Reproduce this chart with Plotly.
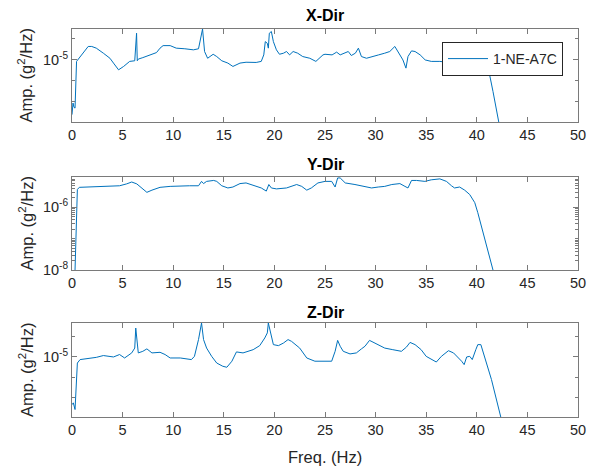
import numpy as np
import plotly.graph_objects as go

# ---------------- data ----------------
# amplitudes are given as log10(g^2/Hz)
x_freq = [0, 0.1, 0.2, 0.3, 0.45, 0.8, 1.3, 1.6, 1.95, 2.4, 3.1, 3.75, 4.1, 4.6, 5.1, 5.7,
          6.2, 6.38, 6.45, 6.55, 7.0, 7.7, 8.35, 8.7, 9.0, 9.7, 10.3, 11.15, 12.0, 12.5,
          12.7, 12.9, 13.1, 13.4, 13.95, 14.3, 14.8, 15.4, 15.9, 16.6, 17.2, 18.2, 18.7,
          18.95, 19.1, 19.3, 19.4, 19.5, 19.7, 19.9, 20.2, 20.5, 20.9, 21.2, 21.5, 21.85,
          22.3, 22.8, 23.5, 24.1, 24.8, 25.0, 25.7, 26.15, 26.5, 27.0, 27.3, 27.6, 28.0,
          28.3, 28.6, 29.1, 29.6, 30.3, 30.9, 31.4, 31.9, 32.2, 32.7, 33.0, 33.2, 33.55,
          33.9, 34.4, 34.9, 35.5, 36.35, 37.0, 38.0, 38.8, 39.1, 39.6, 39.8, 40.1, 40.6,
          41.05, 41.2, 41.6, 41.95, 42.17]
x_log_amp = [-7.62, -7.07, -7.27, -7.31, -5.09, -4.86, -4.54, -4.38, -4.38, -4.46, -4.70,
             -4.94, -5.17, -5.49, -5.33, -5.09, -5.06, -3.75, -5.06, -4.98, -4.91, -4.78,
             -4.67, -4.46, -4.34, -4.34, -4.46, -4.49, -4.54, -4.49, -3.99, -3.55, -4.62,
             -4.94, -4.75, -4.86, -5.06, -5.17, -5.33, -5.17, -5.13, -5.14, -5.09, -4.78,
             -4.15, -4.23, -4.46, -3.75, -3.67, -4.15, -4.54, -4.75, -4.70, -4.62, -4.78,
             -4.62, -4.70, -4.86, -4.94, -5.09, -4.78, -4.75, -4.78, -4.65, -4.78, -4.70,
             -4.62, -4.81, -4.70, -4.46, -4.86, -4.94, -4.86, -4.78, -4.70, -4.62, -4.38,
             -4.62, -5.02, -5.41, -4.86, -4.59, -4.62, -4.78, -5.02, -5.09, -5.09, -5.13,
             -5.17, -5.33, -5.57, -5.49, -5.70, -5.49, -5.41, -5.38, -5.57, -6.52, -7.31,
             -7.97]

y_freq = [0.3, 0.53, 0.72, 1.8, 2.9, 4.1, 4.7, 5.4, 5.9, 6.4, 6.9, 7.4, 7.9, 8.7, 9.7, 10.7,
          11.6, 12.5, 12.8, 13.0, 13.3, 14.0, 14.3, 14.8, 15.4, 15.9, 16.6, 17.2, 18.1, 18.7,
          19.2, 19.45, 19.7, 20.2, 21.2, 22.2, 22.7, 23.2, 23.65, 24.3, 25.0, 25.66, 26.0,
          26.25, 26.5, 27.0, 27.96, 28.95, 29.6, 30.26, 30.9, 31.6, 32.4, 32.9, 33.2, 33.55,
          34.05, 34.87, 35.5, 36.35, 37.0, 37.5, 37.8, 38.3, 38.8, 39.3, 39.8, 40.1, 40.45,
          40.8, 41.1, 41.45, 41.6]
y_log_amp = [-8.0, -5.43, -5.36, -5.35, -5.33, -5.33, -5.31, -5.25, -5.19, -5.25, -5.38,
             -5.52, -5.45, -5.36, -5.33, -5.31, -5.31, -5.31, -5.17, -5.24, -5.17, -5.14,
             -5.17, -5.31, -5.38, -5.35, -5.24, -5.22, -5.31, -5.38, -5.48, -5.27, -5.38,
             -5.41, -5.38, -5.27, -5.33, -5.45, -5.38, -5.22, -5.17, -5.17, -5.35, -5.06,
             -5.06, -5.22, -5.27, -5.35, -5.38, -5.35, -5.33, -5.27, -5.24, -5.33, -5.38,
             -5.14, -5.14, -5.17, -5.12, -5.09, -5.17, -5.31, -5.38, -5.35, -5.45, -5.59,
             -5.85, -6.17, -6.59, -6.96, -7.33, -7.80, -8.0]

z_freq = [0, 0.13, 0.3, 0.53, 0.8, 1.3, 1.8, 2.4, 3.1, 4.1, 4.7, 5.2, 5.9, 6.2, 6.3, 6.45,
          6.55, 7.0, 7.4, 7.9, 8.7, 9.2, 9.7, 10.7, 11.3, 11.8, 12.1, 12.5, 12.8, 13.0,
          13.3, 13.8, 14.3, 14.9, 15.3, 15.8, 16.25, 16.9, 17.9, 18.55, 19.05, 19.3, 19.4,
          19.6, 19.9, 20.4, 20.9, 21.35, 21.7, 22.5, 23.2, 24.0, 25.0, 25.66, 26.0, 26.25,
          26.5, 26.8, 27.47, 28.1, 28.6, 28.95, 29.4, 30.1, 30.9, 31.7, 32.55, 33.05, 33.4,
          33.9, 34.5, 35.0, 35.5, 36.0, 36.5, 37.2, 37.7, 38.2, 38.5, 38.75, 39.0, 39.3,
          39.55, 39.9, 40.1, 40.4, 40.6, 41.45, 42.37]
z_log_amp = [-7.36, -7.27, -7.60, -5.30, -5.13, -5.10, -5.07, -5.02, -4.93, -5.00, -4.88,
             -5.05, -4.80, -4.56, -3.57, -4.56, -4.80, -4.72, -4.60, -4.80, -4.77, -4.88,
             -5.05, -5.05, -5.10, -5.13, -4.97, -4.14, -3.32, -4.14, -4.56, -4.97, -5.30,
             -5.46, -5.51, -5.21, -4.75, -4.80, -4.64, -4.44, -4.06, -3.81, -3.32, -3.81,
             -4.39, -4.44, -4.31, -4.14, -4.23, -4.56, -5.05, -5.21, -5.21, -5.21, -4.72,
             -4.18, -4.47, -4.72, -4.85, -4.80, -4.60, -4.47, -4.18, -4.34, -4.56, -4.64,
             -4.72, -4.51, -4.28, -4.39, -4.64, -4.97, -5.13, -5.25, -4.97, -4.69, -4.80,
             -5.05, -5.21, -5.38, -5.00, -4.97, -5.13, -4.64, -4.39, -4.39, -4.72, -6.12,
             -7.97]

panel_titles = ["X-Dir", "Y-Dir", "Z-Dir"]
legend_name = "1-NE-A7C"
x_ticks = [0, 5, 10, 15, 20, 25, 30, 35, 40, 45, 50]
y_label = "Amp. (g<sup>2</sup>/Hz)"
x_label = "Freq. (Hz)"

# ---------------- figure ----------------
# the page body adds an 8 px offset; all pixel positions below are shifted by it
OFF = 8
W, H = 595 - OFF, 470 - OFF
LEFT, RIGHT = 72 - OFF, 578 - OFF
panels = [(29 - OFF, 122 - OFF), (177 - OFF, 270 - OFF), (323 - OFF, 417 - OFF)]
yranges = [(-7.97, -3.55), (-8.0, -5.03), (-7.97, -3.32)]

LINE = "#0072BD"
AX = "#262626"
BOX = "#7a7a7a"
FONT = "Liberation Sans, Arial, sans-serif"
TICK_SIZE = 14.5
LABEL_SIZE = 16.5

fig = go.Figure()
datasets = [(x_freq, x_log_amp), (y_freq, y_log_amp), (z_freq, z_log_amp)]
for i, (f, la) in enumerate(datasets):
    sfx = "" if i == 0 else str(i + 1)
    fig.add_trace(go.Scatter(
        x=f, y=10 ** np.array(la), mode="lines", name=legend_name,
        line=dict(color=LINE, width=1), showlegend=(i == 0),
        xaxis="x" + sfx, yaxis="y" + sfx))


def ydom(top, bot):
    return [1 - bot / H, 1 - top / H]


layout = dict(
    width=W, height=H, margin=dict(l=LEFT, r=W - RIGHT, t=0, b=0, autoexpand=False),
    paper_bgcolor="white", plot_bgcolor="white",
    font=dict(family=FONT, size=TICK_SIZE, color=AX),
    showlegend=True,
    legend=dict(x=(563 - OFF - LEFT) / (RIGHT - LEFT), y=1 - (42 - OFF) / H,
                xanchor="right", yanchor="top",
                bgcolor="white", bordercolor=AX, borderwidth=1,
                font=dict(family=FONT, size=14, color=AX), itemwidth=40,
                tracegroupgap=0),
)

minor_y2 = []
for d in [1e-8, 1e-7, 1e-6]:
    for m in range(2, 10):
        minor_y2.append(m * d)
minor_y2 += [1e-7, 1e-5]
ytick_specs = [
    ([1e-5], ["10<sup>-5</sup>"], [1e-8, 1e-7, 1e-6, 1e-4]),
    ([1e-8, 1e-6], ["10<sup>-8</sup>", "10<sup>-6</sup>"], minor_y2),
    ([1e-5], ["10<sup>-5</sup>"], [1e-8, 1e-7, 1e-6, 1e-4]),
]

annotations = []
for i, (top, bot) in enumerate(panels):
    sfx = "" if i == 0 else str(i + 1)
    layout["xaxis" + sfx] = dict(
        domain=[0, 1], anchor="y" + sfx, range=[0, 50], tickvals=x_ticks,
        ticks="inside", ticklen=5, tickcolor=BOX, tickwidth=1, automargin=False,
        showline=True, linecolor=BOX, linewidth=1, mirror="ticks",
        showgrid=False, zeroline=False,
        tickfont=dict(size=TICK_SIZE, color=AX, family=FONT),
    )
    tv, tt, mv = ytick_specs[i]
    layout["yaxis" + sfx] = dict(
        domain=ydom(top, bot), anchor="x" + sfx, type="log", range=list(yranges[i]),
        tickvals=tv, ticktext=tt, ticks="inside", ticklen=5, tickcolor=BOX, tickwidth=1,
        minor=dict(tickvals=mv, ticks="inside", ticklen=3, tickcolor=BOX, tickwidth=1),
        showline=True, linecolor=BOX, linewidth=1, mirror="ticks", automargin=False,
        showgrid=False, zeroline=False,
        tickfont=dict(size=TICK_SIZE, color=AX, family=FONT),
    )
    title_y = [16, 164, 312][i] - OFF
    annotations.append(dict(
        text="<b>" + panel_titles[i] + "</b>", x=0.5, y=1 - title_y / H,
        xref="paper", yref="paper", xanchor="center", yanchor="middle",
        showarrow=False, font=dict(size=16, color="black", family=FONT)))
    annotations.append(dict(
        text=y_label, x=(26 - OFF - LEFT) / (RIGHT - LEFT), y=1 - ((top + bot) / 2) / H,
        xref="paper", yref="paper", xanchor="center", yanchor="middle",
        textangle=-90, showarrow=False,
        font=dict(size=LABEL_SIZE, color=AX, family=FONT)))

annotations.append(dict(
    text=x_label, x=0.5, y=1 - (457 - OFF) / H, xref="paper", yref="paper",
    xanchor="center", yanchor="middle", showarrow=False,
    font=dict(size=LABEL_SIZE, color=AX, family=FONT)))

layout["annotations"] = annotations
fig.update_layout(**layout)
fig.write_html("out.html")
